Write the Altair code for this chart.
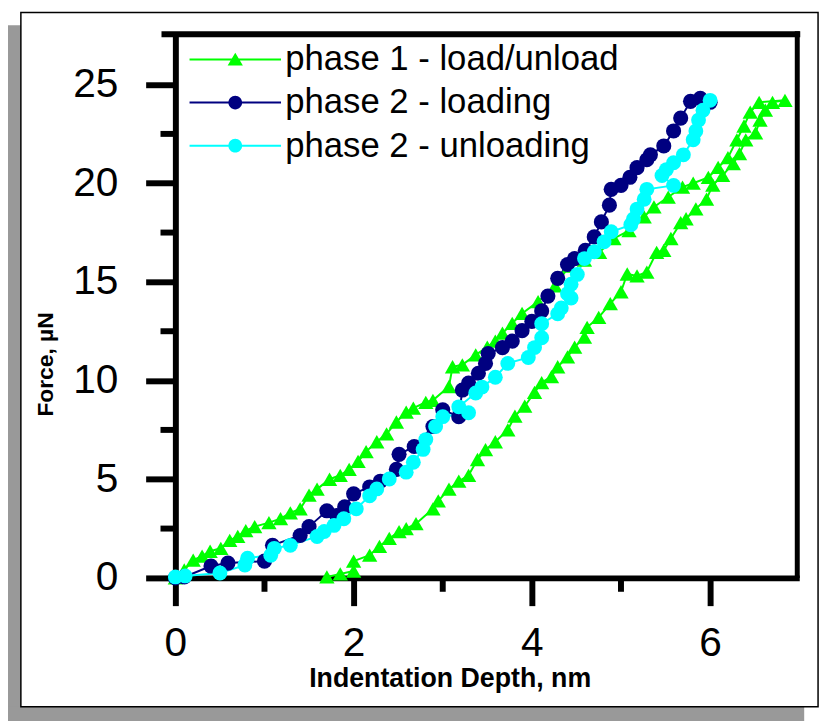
import altair as alt
import pandas as pd

names = ["phase 1 - load/unload", "phase 2 - loading", "phase 2 - unloading"]
colors = ["#00FF00", "#000080", "#00FFFF"]

# phase 1: loading branch (upper-left) then unloading branch (lower-right)
p1_x = [0.0, 0.1, 0.2, 0.3, 0.39, 0.51, 0.61, 0.7, 0.79, 0.89, 1.05, 1.18, 1.29, 1.4,
        1.5, 1.59, 1.73, 1.85, 1.95, 2.05, 2.14, 2.26, 2.37, 2.48, 2.59, 2.67, 2.81, 2.89,
        3.07, 3.11, 3.22, 3.37, 3.5, 3.59, 3.67, 3.78, 3.89, 4.07, 4.26, 4.42, 4.59, 4.76,
        4.92, 5.09, 5.26, 5.37, 5.53, 5.69, 5.81, 5.98, 6.09, 6.2, 6.3, 6.38, 6.45, 6.55,
        6.84, 6.7, 6.62, 6.56, 6.51, 6.4, 6.33, 6.26, 6.14, 6.03, 5.96, 5.84, 5.73, 5.67,
        5.56, 5.48, 5.4, 5.29, 5.18, 5.07, 5.0, 4.88, 4.75, 4.62, 4.59, 4.48, 4.4, 4.29,
        4.22, 4.11, 4.03, 3.92, 3.81, 3.73, 3.59, 3.48, 3.39, 3.29, 3.18, 3.07, 2.95, 2.89,
        2.7, 2.59, 2.51, 2.4, 2.29, 2.18, 2.0, 2.0, 1.85, 1.7]
p1_y = [0.0, 0.4, 0.9, 1.1, 1.35, 1.5, 1.9, 2.1, 2.4, 2.6, 2.8, 3.0, 3.3, 3.5,
        4.2, 4.5, 5.0, 5.2, 5.5, 5.9, 6.4, 6.9, 7.3, 7.9, 8.4, 8.6, 8.9, 9.0,
        9.7, 10.7, 10.8, 11.3, 11.7, 12.0, 12.4, 12.9, 13.4, 14.0, 14.8, 15.8, 16.1, 16.5,
        17.2, 17.6, 18.3, 18.8, 19.3, 19.8, 20.0, 20.3, 20.8, 21.3, 22.2, 22.9, 23.6, 24.1,
        24.2, 24.1, 23.7, 23.2, 22.55, 22.2, 21.5, 21.0, 20.4, 19.9, 19.2, 18.7, 18.2, 18.0,
        17.2, 16.6, 16.5, 15.5, 15.3, 15.4, 14.5, 13.9, 13.2, 12.7, 12.2, 11.7, 11.2, 10.7,
        10.2, 9.9, 9.4, 8.7, 8.2, 7.5, 6.9, 6.5, 6.0, 5.2, 4.9, 4.5, 3.9, 3.5,
        2.75, 2.5, 2.35, 2.0, 1.6, 1.15, 0.85, 0.35, 0.2, 0.05]

# phase 2 loading
p2l_x = [0.0, 0.1, 0.4, 0.59, 1.0, 1.09, 1.4, 1.5, 1.7, 1.81, 1.9, 2.0, 2.18, 2.3, 2.48,
         2.51, 2.68, 2.89, 3.0, 3.18, 3.22, 3.29, 3.4, 3.48, 3.51, 3.67, 3.78, 3.89, 4.0,
         4.11, 4.18, 4.29, 4.4, 4.48, 4.6, 4.7, 4.78, 4.87, 4.89, 5.0, 5.1, 5.18, 5.29,
         5.33, 5.48, 5.59, 5.67, 5.78, 5.89, 6.0]
p2l_y = [0.0, 0.05, 0.6, 0.75, 0.85, 1.65, 2.15, 2.6, 3.4, 3.16, 3.6, 4.26, 4.61, 4.9, 5.5,
         6.26, 6.66, 7.67, 8.52, 8.17, 9.52, 9.87, 10.37, 10.87, 11.37, 11.67, 12.0, 12.53, 13.0,
         13.53, 14.28, 15.18, 15.88, 16.18, 16.6, 17.28, 18.04, 18.89, 19.69, 19.89, 20.3, 20.79, 21.19,
         21.44, 21.89, 22.65, 23.3, 24.15, 24.3, 24.1]

# phase 2 unloading
p2u_x = [6.0, 5.92, 5.87, 5.84, 5.81, 5.7, 5.59, 5.51, 5.46, 5.59, 5.29, 5.26, 5.18, 5.14,
         5.11, 4.89, 4.81, 4.7, 4.59, 4.51, 4.44, 4.4, 4.44, 4.33, 4.29, 4.11, 4.11, 4.03,
         3.96, 3.73, 3.59, 3.44, 3.37, 3.18, 3.29, 3.0, 2.92, 2.81, 2.78, 2.67, 2.59, 2.4,
         2.26, 2.18, 2.03, 1.89, 1.78, 1.67, 1.59, 1.29, 1.11, 1.07, 0.81, 0.78, 0.5, 0.11, 0.0]
p2u_y = [24.2, 23.7, 23.2, 22.65, 22.2, 21.44, 21.04, 20.69, 20.39, 19.89, 19.69, 19.19, 18.69, 18.19,
         17.89, 17.54, 17.03, 16.53, 16.18, 15.38, 14.88, 14.4, 14.18, 13.68, 13.38, 12.88, 12.17, 11.67,
         11.17, 10.87, 10.17, 9.67, 9.37, 8.67, 8.37, 8.17, 7.67, 7.01, 6.51, 5.86, 5.36, 5.01,
         4.51, 4.16, 3.5, 3.0, 2.66, 2.35, 2.1, 1.65, 1.5, 1.15, 1.0, 0.65, 0.25, 0.1, 0.05]

x_major = [0, 2, 4, 6]
x_minor = [1, 3, 5]
y_major = [0, 5, 10, 15, 20, 25]
y_minor = [2.5, 7.5, 12.5, 17.5, 22.5]

rows = []
for name, xs, ys in zip(names, [p1_x, p2l_x, p2u_x], [p1_y, p2l_y, p2u_y]):
    for i, (a, b) in enumerate(zip(xs, ys)):
        rows.append({"x": a, "y": b, "series": name, "idx": i})
df = pd.DataFrame(rows)

W, H = 630, 548
FONT = "Liberation Sans"

xscale = alt.Scale(domain=[0, 7], nice=False, zero=False)
yscale = alt.Scale(domain=[0, 27.5], nice=False, zero=False)

xaxis = alt.Axis(values=x_major, title="Indentation Depth, nm", grid=False, offset=0,
                 labelFlush=False, labelOverlap=False,
                 domainColor="black", domainWidth=6,
                 tickColor="black", tickWidth=6, tickSize=28,
                 labelFont=FONT, labelFontSize=41, labelColor="black", labelPadding=18,
                 titleFont=FONT, titleFontSize=27, titleFontWeight="bold", titleColor="black",
                 titleX=277, titleY=110, titleBaseline="alphabetic", titleAlign="center")
yaxis = alt.Axis(values=y_major, title="Force, µN", grid=False, offset=0,
                 labelFlush=False, labelOverlap=False,
                 domainColor="black", domainWidth=6,
                 tickColor="black", tickWidth=6, tickSize=30,
                 labelFont=FONT, labelFontSize=41, labelColor="black", labelPadding=28,
                 titleFont=FONT, titleFontSize=23, titleFontWeight="bold", titleColor="black",
                 titleAngle=270, titleX=-124, titleY=332, titleBaseline="alphabetic",
                 titleAlign="center")

def X(field="x"):
    return alt.X(f"{field}:Q", scale=xscale, axis=xaxis)

def Y(field="y"):
    return alt.Y(f"{field}:Q", scale=yscale, axis=yaxis)

one = pd.DataFrame({"a": [0]})

shadow_left = alt.Chart(one).mark_rect(color="#999999").encode(
    x=alt.value(-172), x2=alt.value(-156), y=alt.value(-10), y2=alt.value(695))
shadow_bottom = alt.Chart(one).mark_rect(color="#999999").encode(
    x=alt.value(-172), x2=alt.value(635), y=alt.value(678), y2=alt.value(695))
box = alt.Chart(one).mark_rect(fill="white", fillOpacity=0, stroke="black", strokeWidth=1.5).encode(
    x=alt.value(-156), x2=alt.value(649), y=alt.value(-23), y2=alt.value(678))

frame_top = alt.Chart(one).mark_rule(color="black", strokeWidth=6).encode(
    x=alt.value(-14), x2=alt.value(631), y=alt.value(-1), y2=alt.value(-1))
frame_right = alt.Chart(one).mark_rule(color="black", strokeWidth=5).encode(
    x=alt.value(628), x2=alt.value(628), y=alt.value(-4), y2=alt.value(548))

xminor = alt.Chart(pd.DataFrame({"x": x_minor})).mark_rule(color="black", strokeWidth=6).encode(
    x=X(), y=alt.value(548), y2=alt.value(562))
yminor = alt.Chart(pd.DataFrame({"y": y_minor})).mark_rule(color="black", strokeWidth=6).encode(
    y=Y(), x=alt.value(0), x2=alt.value(-15))

cscale = alt.Scale(domain=names, range=colors)

lines = alt.Chart(df).mark_line(strokeWidth=2).encode(
    x=X(), y=Y(),
    color=alt.Color("series:N", scale=cscale, legend=None),
    order="idx:Q")

points = alt.Chart(df).mark_point(filled=True, opacity=1).encode(
    x=X(), y=Y(),
    color=alt.Color("series:N", scale=cscale, legend=None),
    shape=alt.Shape("series:N", scale=alt.Scale(domain=names, range=["triangle-up", "circle", "circle"]), legend=None),
    size=alt.Size("series:N", scale=alt.Scale(domain=names, range=[240, 225, 225]), legend=None))

tri_path = "M-6,-0.13H6V0.13H-6Z M0,-0.9L1,0.8L-1,0.8Z"
circ_path = "M-6,-0.13H6V0.13H-6Z M-0.9,0A0.9,0.9 0 1,1 0.9,0A0.9,0.9 0 1,1 -0.9,0Z"

leg = dict(title=None, orient="none", legendX=43, legendY=7, padding=0,
           labelFont=FONT, labelFontSize=35, labelColor="black", labelLimit=600,
           symbolSize=237, labelOffset=33, rowPadding=7.5, symbolStrokeWidth=0,
           symbolOpacity=1)

legend_layer = alt.Chart(df).transform_filter("datum.x < -100").mark_point(filled=True, opacity=1).encode(
    x=X(), y=Y(),
    color=alt.Color("series:N", scale=cscale, legend=alt.Legend(**leg)),
    shape=alt.Shape("series:N", scale=alt.Scale(domain=names, range=[tri_path, circ_path, circ_path]),
                    legend=alt.Legend(**leg)))

chart = alt.layer(
    shadow_left, shadow_bottom, box, xminor, yminor, frame_top, frame_right,
    lines, points, legend_layer
).resolve_scale(color="independent", shape="independent", size="independent").properties(
    width=W, height=H,
    autosize=alt.AutoSizeParams(type="none"),
    padding={"left": 169, "top": 24, "right": 25, "bottom": 141},
    background="white",
).configure_view(stroke=None)

chart.save("out.html", embed_options={"renderer": "svg", "actions": False})
